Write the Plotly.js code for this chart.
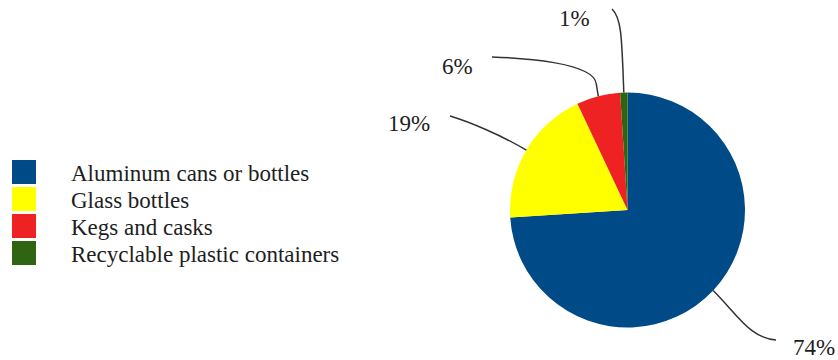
<!DOCTYPE html>
<html>
<head>
<meta charset="utf-8">
<script src="https://cdn.plot.ly/plotly-3.0.1.min.js"></script>
<style>html,body{margin:0;padding:0;background:#fff;}#chart{width:838px;height:360px;}</style>
</head>
<body>
<div id="chart"></div>
<script>
// Data
const categories = ["Aluminum cans or bottles", "Glass bottles", "Kegs and casks", "Recyclable plastic containers"];
const values = [74, 19, 6, 1];
const colors = ["#004a87", "#ffff00", "#ee2222", "#2f6410"];

const W = 838, H = 360;
const CX = 627.5, CY = 210, R = 117.5;
const px = x => x / W;
const py = y => 1 - y / H;

const total = values.reduce((a, b) => a + b, 0);
let acc = 0;
const mids = values.map(v => { const m = (acc + v / 2) / total * 2 * Math.PI; acc += v; return m; });
const anchor = i => [CX + R * Math.sin(mids[i]), CY - R * Math.cos(mids[i])];

const labelPos = [
  {t: [814, 347], path: (a) => `M${a[0]},${a[1]} C${a[0]+25},${a[1]+25} ${750},${338} ${776},${340}`},
  {t: [409, 123], path: (a) => `M${a[0]},${a[1]} C${a[0]-25},${a[1]-15} ${470},${122} ${450},${116}`},
  {t: [457, 66],  path: (a) => `M${a[0]},${a[1]} L${a[0]-2},${84} C${a[0]-4},${62} ${520},${58} ${492},${57}`},
  {t: [574, 18],  path: (a) => `M${a[0]},${a[1]} C${a[0]-2},${40} ${a[0]-2},${18} ${612},${9}`}
];

function toPaperPath(d) {
  return d.replace(/(-?\d+(?:\.\d+)?),(-?\d+(?:\.\d+)?)/g, (m, x, y) => px(+x).toFixed(5) + ',' + py(+y).toFixed(5));
}

const shapes = [];
const annotations = [];
const font = {family: "Liberation Serif", size: 23, color: "#1e1e1e"};

values.forEach((v, i) => {
  const a = anchor(i);
  shapes.push({type: 'path', xref: 'paper', yref: 'paper', path: toPaperPath(labelPos[i].path(a)),
               line: {color: '#333', width: 1.5}});
  annotations.push({xref: 'paper', yref: 'paper', x: px(labelPos[i].t[0]), y: py(labelPos[i].t[1]),
                    xanchor: 'center', yanchor: 'middle', showarrow: false,
                    text: Math.round(v / total * 100) + '%', font: font});
});

const legY0 = 172, legStep = 27, sq = 24;
categories.forEach((c, i) => {
  const yc = legY0 + i * legStep;
  shapes.push({type: 'rect', xref: 'paper', yref: 'paper',
               x0: px(12), x1: px(12 + sq), y0: py(yc - sq / 2), y1: py(yc + sq / 2),
               fillcolor: colors[i], line: {width: 0}});
  annotations.push({xref: 'paper', yref: 'paper', x: px(69), y: py(yc + 1), xanchor: 'left', yanchor: 'middle',
                    showarrow: false, text: c, font: font});
});

const trace = {
  type: 'pie', labels: categories, values: values, sort: false, direction: 'clockwise', rotation: 0,
  marker: {colors: colors, line: {width: 0}}, textinfo: 'none', hoverinfo: 'label+percent',
  domain: {x: [px(CX - R), px(CX + R)], y: [py(CY + R), py(CY - R)]}
};

const layout = {
  width: W, height: H, margin: {l: 0, r: 0, t: 0, b: 0}, showlegend: false,
  paper_bgcolor: '#fff', plot_bgcolor: '#fff', shapes: shapes, annotations: annotations
};

Plotly.newPlot('chart', [trace], layout, {displayModeBar: false, staticPlot: true});
</script>
</body>
</html>
